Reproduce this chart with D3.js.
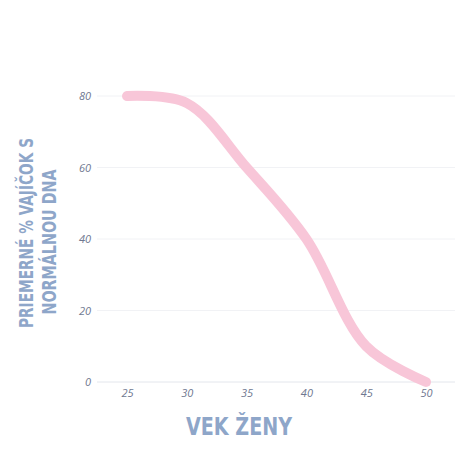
<!DOCTYPE html>
<html>
<head>
<meta charset="utf-8">
<script src="https://cdn.jsdelivr.net/npm/d3@7"></script>
<style>
  html, body { margin: 0; padding: 0; background: #fff; }
  .tick text { font-family: "Open Sans", sans-serif; font-style: italic; font-size: 11px; fill: #6f7890; }
  .title { font-family: "DejaVu Sans", sans-serif; font-stretch: condensed; font-weight: bold; fill: #8ea6c9; }
</style>
</head>
<body>
<div id="chart"></div>
<script>
var ages = [25, 30, 35, 40, 45, 50];
var percent = [80, 78, 60, 40, 10, 0];
var xTicks = [25, 30, 35, 40, 45, 50];
var yTicks = [0, 20, 40, 60, 80];

var width = 474, height = 474;
var gLeft = 97, gRight = 455, gTop = 96, gBottom = 382;

var svg = d3.select('#chart').append('svg')
  .attr('width', width)
  .attr('height', height);

// 25 -> 127px, 50 -> 426px
var x = d3.scaleLinear().domain([25, 50]).range([127, 426]);
var y = d3.scaleLinear().domain([0, 80]).range([gBottom, gTop]);

// gridlines
svg.append('g')
  .selectAll('line').data(yTicks)
  .enter().append('line')
  .attr('x1', gLeft)
  .attr('x2', gRight)
  .attr('y1', function (d) { return y(d); })
  .attr('y2', function (d) { return y(d); })
  .style('stroke', function (d) { return d === 0 ? '#e3e6ec' : '#f1f2f5'; })
  .style('stroke-width', 1);

var yAxis = svg.append('g')
  .attr('transform', 'translate(' + (gLeft - 6) + ',0)')
  .call(d3.axisLeft(y).tickValues(yTicks).tickSize(0).tickPadding(0));
yAxis.select('.domain').remove();

var xAxis = svg.append('g')
  .attr('transform', 'translate(0,' + (gBottom + 3) + ')')
  .call(d3.axisBottom(x).tickValues(xTicks).tickSize(0).tickPadding(4));
xAxis.select('.domain').remove();

var line = d3.line()
  .x(function (d, i) { return x(ages[i]); })
  .y(function (d) { return y(d); })
  .curve(d3.curveCatmullRom.alpha(0.5));

svg.append('path')
  .datum(percent)
  .attr('d', line)
  .style('fill', 'none')
  .style('stroke', '#f8c6d8')
  .style('stroke-width', 10)
  .style('stroke-linecap', 'round')
  .style('stroke-linejoin', 'round');

// axis titles
svg.append('text')
  .attr('class', 'title')
  .attr('x', 239)
  .attr('y', 435)
  .attr('text-anchor', 'middle')
  .attr('textLength', 106)
  .attr('lengthAdjust', 'spacingAndGlyphs')
  .style('font-size', '25px')
  .text('VEK ŽENY');

svg.append('text')
  .attr('class', 'title')
  .attr('transform', 'translate(33,233) rotate(-90)')
  .attr('text-anchor', 'middle')
  .attr('textLength', 190)
  .attr('lengthAdjust', 'spacingAndGlyphs')
  .style('font-size', '20px')
  .text('PRIEMERNÉ % VAJÍČOK S');

svg.append('text')
  .attr('class', 'title')
  .attr('transform', 'translate(56,242) rotate(-90)')
  .attr('text-anchor', 'middle')
  .attr('textLength', 145)
  .attr('lengthAdjust', 'spacingAndGlyphs')
  .style('font-size', '20px')
  .text('NORMÁLNOU DNA');
</script>
</body>
</html>
